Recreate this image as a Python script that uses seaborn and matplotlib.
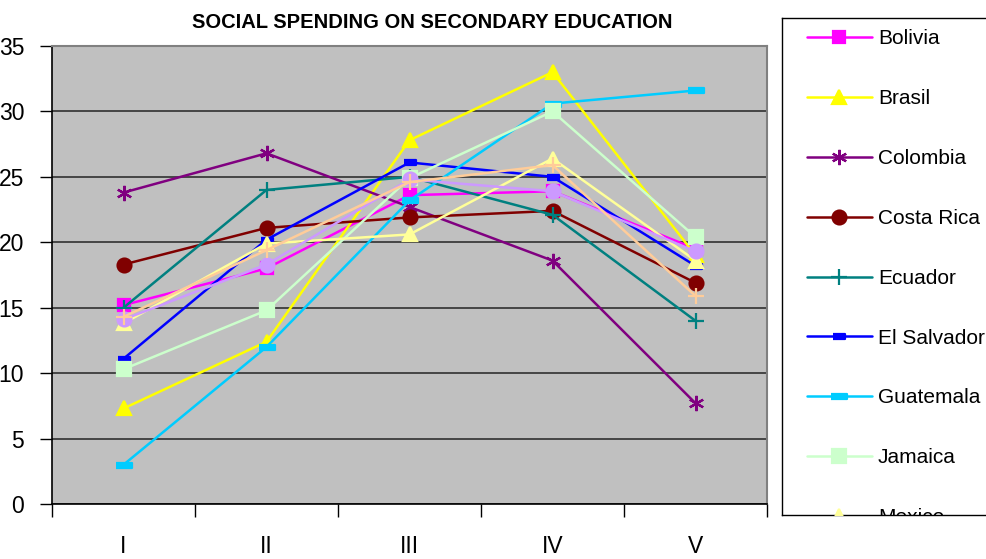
import matplotlib
matplotlib.use("Agg")
import matplotlib.pyplot as plt
import numpy as np
import pandas as pd
import seaborn as sns
from matplotlib.lines import Line2D

# values
periods = ["I", "II", "III", "IV", "V"]
countries = ["Bolivia", "Brasil", "Colombia", "Costa Rica", "Ecuador",
             "El Salvador", "Guatemala", "Jamaica", "Mexico", "Paraguay", "Peru"]
bolivia = [15.2, 18.0, 23.6, 23.9, 19.5]
brasil = [7.3, 12.4, 27.8, 33.0, 19.0]
colombia = [23.8, 26.8, 22.7, 18.6, 7.7]
costa_rica = [18.3, 21.1, 21.9, 22.4, 16.9]
ecuador = [15.0, 24.0, 25.0, 22.1, 14.0]
el_salvador = [11.1, 20.2, 26.1, 25.0, 18.2]
guatemala = [3.0, 12.0, 23.2, 30.6, 31.6]
jamaica = [10.3, 14.8, 24.9, 30.0, 20.4]
mexico = [13.8, 19.9, 20.6, 26.4, 18.6]
paraguay = [14.1, 18.3, 24.8, 23.9, 19.3]
peru = [14.3, 19.4, 24.6, 25.9, 15.9]
series_values = [bolivia, brasil, colombia, costa_rica, ecuador, el_salvador,
                 guatemala, jamaica, mexico, paraguay, peru]

colors = ["#FF00FF", "#FFFF00", "#800080", "#800000", "#008080", "#0000FF",
          "#00CCFF", "#CCFFCC", "#FFFF99", "#CC99FF", "#FFCC99"]
short_dash = [(-1, -0.45), (1, -0.45), (1, 0.45), (-1, 0.45)]
long_dash = [(-1, -0.3), (1, -0.3), (1, 0.3), (-1, 0.3)]
markers = ["s", "^", (6, 2, 0), "o", "+", short_dash, long_dash, "s", "^", "o", "+"]
msizes = [9, 10, 11, 10, 11, 8, 12, 10, 10, 10, 11]

df = pd.DataFrame({
    "period": np.tile(periods, len(countries)),
    "country": np.repeat(countries, len(periods)),
    "spending": np.concatenate(series_values),
})

sns.set_style("white")
plt.rcParams["font.family"] = ["Liberation Sans", "DejaVu Sans"]
plt.rcParams["text.color"] = "black"
plt.rcParams["xtick.color"] = "black"
plt.rcParams["ytick.color"] = "black"

fig = plt.figure(figsize=(9.86, 5.59), dpi=100)
ax = fig.add_axes([52 / 986, 1 - 504 / 559, (767 - 52) / 986, (504 - 46) / 559])
ax.set_facecolor("#C0C0C0")

for name, col, mk, ms in zip(countries, colors, markers, msizes):
    sub = df[df["country"] == name]
    sns.lineplot(data=sub, x="period", y="spending", ax=ax, color=col,
                 marker=mk, markersize=ms, markeredgecolor=col,
                 markeredgewidth=1.6, linewidth=1.8, legend=False)

ax.set_xlim(-0.5, 4.5)
ax.set_ylim(0, 35)
ax.set_yticks(range(0, 36, 5))
ax.grid(axis="y", color="#303030", linewidth=1.2)
ax.set_axisbelow(True)
ax.set_xlabel("")
ax.set_ylabel("")

ax.set_xticks(range(5))
ax.set_xticklabels(periods, fontsize=16.5)
ax.set_xticks(np.arange(-0.5, 5, 1), minor=True)
ax.tick_params(axis="x", which="major", length=0, pad=22)
ax.tick_params(axis="x", which="minor", length=9, width=1, color="black",
               direction="out", bottom=True)
ax.tick_params(axis="y", length=9, width=1, color="black", direction="out",
               pad=11, left=True, labelsize=16.5)

for side in ["left", "bottom"]:
    ax.spines[side].set_color("black")
    ax.spines[side].set_linewidth(1.2)
for side in ["top", "right"]:
    ax.spines[side].set_color("#808080")
    ax.spines[side].set_linewidth(1.5)

fig.text(432 / 986, 1 - 22 / 559, "SOCIAL SPENDING ON SECONDARY EDUCATION",
         ha="center", va="center", fontweight="bold", fontsize=14.5)

# legend box; the last visible entry is cut by the box edge as in the original
lax = fig.add_axes([782 / 986, 1 - 515 / 559, 0.25, (515 - 18) / 559])
lax.set_xticks([])
lax.set_yticks([])
lax.set_facecolor("white")
for sp in lax.spines.values():
    sp.set_color("black")
    sp.set_linewidth(1)

n_shown = 9
handles = [Line2D([], [], color=c, marker=m, markersize=s, markeredgecolor=c,
                  markeredgewidth=1.6, linewidth=1.8)
           for c, m, s in zip(colors[:n_shown], markers[:n_shown], msizes[:n_shown])]
leg = lax.legend(handles, countries[:n_shown], loc="upper left",
                 bbox_to_anchor=(807 / 986, 1 - 29.5 / 559),
                 bbox_transform=fig.transFigure, frameon=False, borderpad=0,
                 borderaxespad=0, fontsize=15, handlelength=3.1,
                 handletextpad=0.3, labelspacing=1.96)
for art in leg.findobj():
    art.set_clip_box(lax.bbox)
    art.set_clip_on(True)

fig.savefig("out.png", dpi=100)
